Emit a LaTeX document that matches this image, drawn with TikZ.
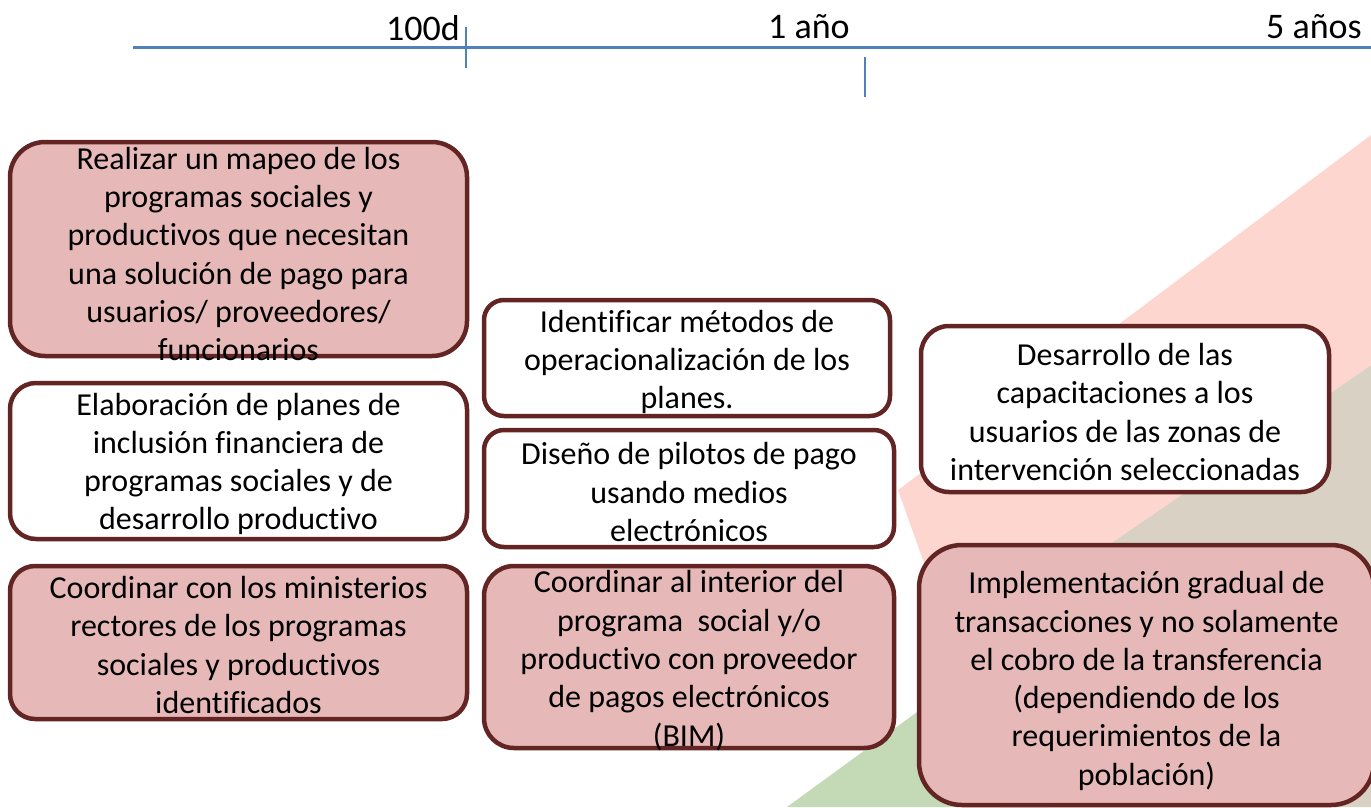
\documentclass[tikz,border=0pt]{standalone}
\usepackage{fontspec}
\setmainfont{Carlito}[Ligatures=NoCommon]
\definecolor{boxline}{RGB}{99,37,35}
\definecolor{boxpink}{RGB}{230,185,184}
\definecolor{tlblue}{RGB}{79,129,189}
\definecolor{bgpink}{RGB}{253,214,207}
\definecolor{bgbeige}{RGB}{217,210,196}
\definecolor{bggreen}{RGB}{196,217,181}
\begin{document}
\begin{tikzpicture}[x=1pt,y=-1pt,
  box/.style={draw=boxline, line width=4.5pt, inner sep=0pt, text=black},
  pinkbox/.style={box, fill=boxpink},
  whitebox/.style={box, fill=white},
  txt/.style={align=center, font=\fontsize{32}{38.3}\selectfont, inner sep=0pt},
  lbl/.style={font=\fontsize{36}{40}\selectfont, inner sep=0pt},
  tl/.style={draw=tlblue, line width=3pt},
  tick/.style={draw=tlblue, line width=1.5pt}]
\useasboundingbox (0,0) rectangle (1371,807);
% background stripes
\fill[bgbeige] (955,650) -- (1371,365) -- (1371,807) -- (1000,807) -- cycle;
\fill[bggreen] (787,807) -- (1050,615) -- (1050,807) -- cycle;
\fill[bgpink] (898,490) -- (1371,135) -- (1371,365) -- (955,650) -- cycle;
% timeline
\coordinate (tlL) at (133,47);
\coordinate (tlR) at (1371,47);
\draw[tl] (tlL) -- (tlR);
\coordinate (t1a) at (466,27);
\coordinate (t1b) at (466,68);
\coordinate (t2a) at (865,57);
\coordinate (t2b) at (865,97);
\draw[tick] (t1a) -- (t1b);
\draw[tick] (t2a) -- (t2b);
\node[lbl, anchor=base east] (l100) at (460,40) {100d};
\node[lbl, anchor=base west] (l1) at (768,38) {1 año};
\node[lbl, anchor=base west] (l5) at (1266,38) {5 años};
% boxes
\node[pinkbox, minimum width=457pt, minimum height=214pt, rounded corners=35pt] (b1) at (238.5,249) {};
\node[whitebox, minimum width=457pt, minimum height=156pt, rounded corners=26pt] (b2) at (238.5,461) {};
\node[pinkbox, minimum width=457pt, minimum height=153pt, rounded corners=25pt] (b3) at (238.5,642.5) {};
\node[whitebox, minimum width=406pt, minimum height=116pt, rounded corners=20pt] (b4) at (687,358) {};
\node[whitebox, minimum width=410pt, minimum height=117pt, rounded corners=20pt] (b5) at (689,488.5) {};
\node[pinkbox, minimum width=410pt, minimum height=182pt, rounded corners=30pt] (b6) at (689,657) {};
\node[whitebox, minimum width=408pt, minimum height=166pt, rounded corners=28pt] (b7) at (1125,409) {};
\node[pinkbox, minimum width=455pt, minimum height=260pt, rounded corners=43pt] (b8) at (1146.5,675) {};
% texts
\node[txt] (x1) at ([yshift=-5pt]b1.center) {Realizar un mapeo de los\\programas sociales y\\productivos que necesitan\\una solución de pago para\\usuarios/ proveedores/\\funcionarios};
\node[txt] (x2) at ([yshift=-3pt]b2.center) {Elaboración de planes de\\inclusión financiera de\\programas sociales y de\\desarrollo productivo};
\node[txt] (x3) at ([yshift=-2.5pt]b3.center) {Coordinar con los ministerios\\rectores de los programas\\sociales y productivos\\identificados};
\node[txt] (x4) at ([yshift=-4pt]b4.center) {Identificar métodos de\\operacionalización de los\\planes.};
\node[txt] (x5) at ([yshift=-3.5pt]b5.center) {Diseño de pilotos de pago\\usando medios\\electrónicos};
\node[txt] (x6) at ([yshift=-3.5pt]b6.center) {Coordinar al interior del\\programa \ social y/o\\productivo con proveedor\\de pagos electrónicos\\(BIM)};
\node[txt] (x7) at ([yshift=-3pt]b7.center) {Desarrollo de las\\capacitaciones a los\\usuarios de las zonas de\\intervención seleccionadas};
\node[txt] (x8) at ([yshift=-6pt]b8.center) {Implementación gradual de\\transacciones y no solamente\\el cobro de la transferencia\\(dependiendo de los\\requerimientos de la\\población)};
\end{tikzpicture}
\end{document}
